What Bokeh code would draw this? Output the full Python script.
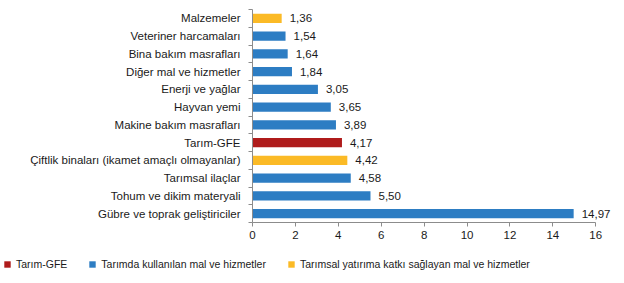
from bokeh.plotting import figure
from bokeh.layouts import column, row
from bokeh.models import ColumnDataSource, FixedTicker, Legend, LegendItem, Range1d
from bokeh.embed import file_html
from bokeh.resources import INLINE

categories = [
    "Malzemeler",
    "Veteriner harcamaları",
    "Bina bakım masrafları",
    "Diğer mal ve hizmetler",
    "Enerji ve yağlar",
    "Hayvan yemi",
    "Makine bakım masrafları",
    "Tarım-GFE",
    "Çiftlik binaları (ikamet amaçlı olmayanlar)",
    "Tarımsal ilaçlar",
    "Tohum ve dikim materyali",
    "Gübre ve toprak geliştiriciler",
]
values = [1.36, 1.54, 1.64, 1.84, 3.05, 3.65, 3.89, 4.17, 4.42, 4.58, 5.50, 14.97]
groups = ["yat", "kul", "kul", "kul", "kul", "kul", "kul", "gfe", "yat", "kul", "kul", "kul"]
group_order = ["gfe", "kul", "yat"]
group_names = {
    "gfe": "Tarım-GFE",
    "kul": "Tarımda kullanılan mal ve hizmetler",
    "yat": "Tarımsal yatırıma katkı sağlayan mal ve hizmetler",
}
group_colors = {"gfe": "#AF1B1B", "kul": "#2D7DC3", "yat": "#FBBA26"}
x_ticks = [0, 2, 4, 6, 8, 10, 12, 14, 16]

n = len(categories)
ypos = [n - 1 - i for i in range(n)]
labels = [f"{v:.2f}".replace(".", ",") for v in values]

FONT = "Liberation Sans"
TXT = "#1a1a1a"
AX = "#8c8c8c"

p = figure(width=624, height=250, output_backend="svg", toolbar_location=None,
           x_range=Range1d(0, 17.2), y_range=Range1d(-0.5, n - 0.5),
           min_border_left=252, min_border_right=3, min_border_top=9,
           min_border_bottom=28)
p.outline_line_color = None
p.grid.visible = False

for g in group_order:
    idx = [i for i in range(n) if groups[i] == g]
    src = ColumnDataSource(dict(y=[ypos[i] for i in idx], v=[values[i] for i in idx]))
    p.hbar(y="y", right="v", left=0, height=0.52, source=src,
           fill_color=group_colors[g], line_color=None)

tsrc = ColumnDataSource(dict(y=ypos, x=values, t=labels))
p.text(x="x", y="y", text="t", source=tsrc, x_offset=8, text_baseline="middle",
       text_align="left", text_font_size="11.5px", text_color=TXT,
       text_font={"value": FONT})

xa = p.xaxis[0]
xa.ticker = FixedTicker(ticks=x_ticks)
xa.bounds = (0, 16)
xa.axis_line_color = AX
xa.major_tick_line_color = AX
xa.major_tick_out = 4
xa.major_tick_in = 0
xa.minor_tick_line_color = None
xa.major_label_text_font = FONT
xa.major_label_text_font_size = "11.5px"
xa.major_label_text_color = TXT
xa.major_label_standoff = 4

ya = p.yaxis[0]
ya.ticker = FixedTicker(ticks=ypos, minor_ticks=[k - 0.5 for k in range(n + 1)])
ya.major_label_overrides = {ypos[i]: categories[i] for i in range(n)}
ya.axis_line_color = AX
ya.major_tick_line_color = None
ya.major_tick_out = 0
ya.major_tick_in = 0
ya.minor_tick_line_color = AX
ya.minor_tick_out = 4
ya.minor_tick_in = 0
ya.major_label_text_font = FONT
ya.major_label_text_font_size = "11.5px"
ya.major_label_text_color = TXT
ya.major_label_standoff = 8

# legend strip (its own small figure, no axes)
lf = figure(width=624, height=33, output_backend="svg", toolbar_location=None,
            x_axis_location=None, y_axis_location=None,
            x_range=Range1d(0, 1), y_range=Range1d(0, 1),
            min_border=0)
lf.outline_line_color = None
lf.grid.visible = False
items = []
for g in group_order:
    # placeholder renderer: a zero-width bar, only used for its legend swatch
    r = lf.hbar(y=[0.5], right=[0], left=[0], height=0.5, fill_color=group_colors[g], line_color=None)
    items.append(LegendItem(label=group_names[g], renderers=[r]))
legend = Legend(items=items, orientation="horizontal", location=(3, 13),
                label_text_font=FONT, label_text_font_size="10.5px", label_text_color=TXT,
                glyph_width=8, glyph_height=8, label_standoff=5, spacing=21,
                padding=2, margin=0, border_line_color=None, background_fill_alpha=0,
                label_height=12)
lf.add_layout(legend)

open("out.html", "w").write(file_html(column(row(p), row(lf)), INLINE))
